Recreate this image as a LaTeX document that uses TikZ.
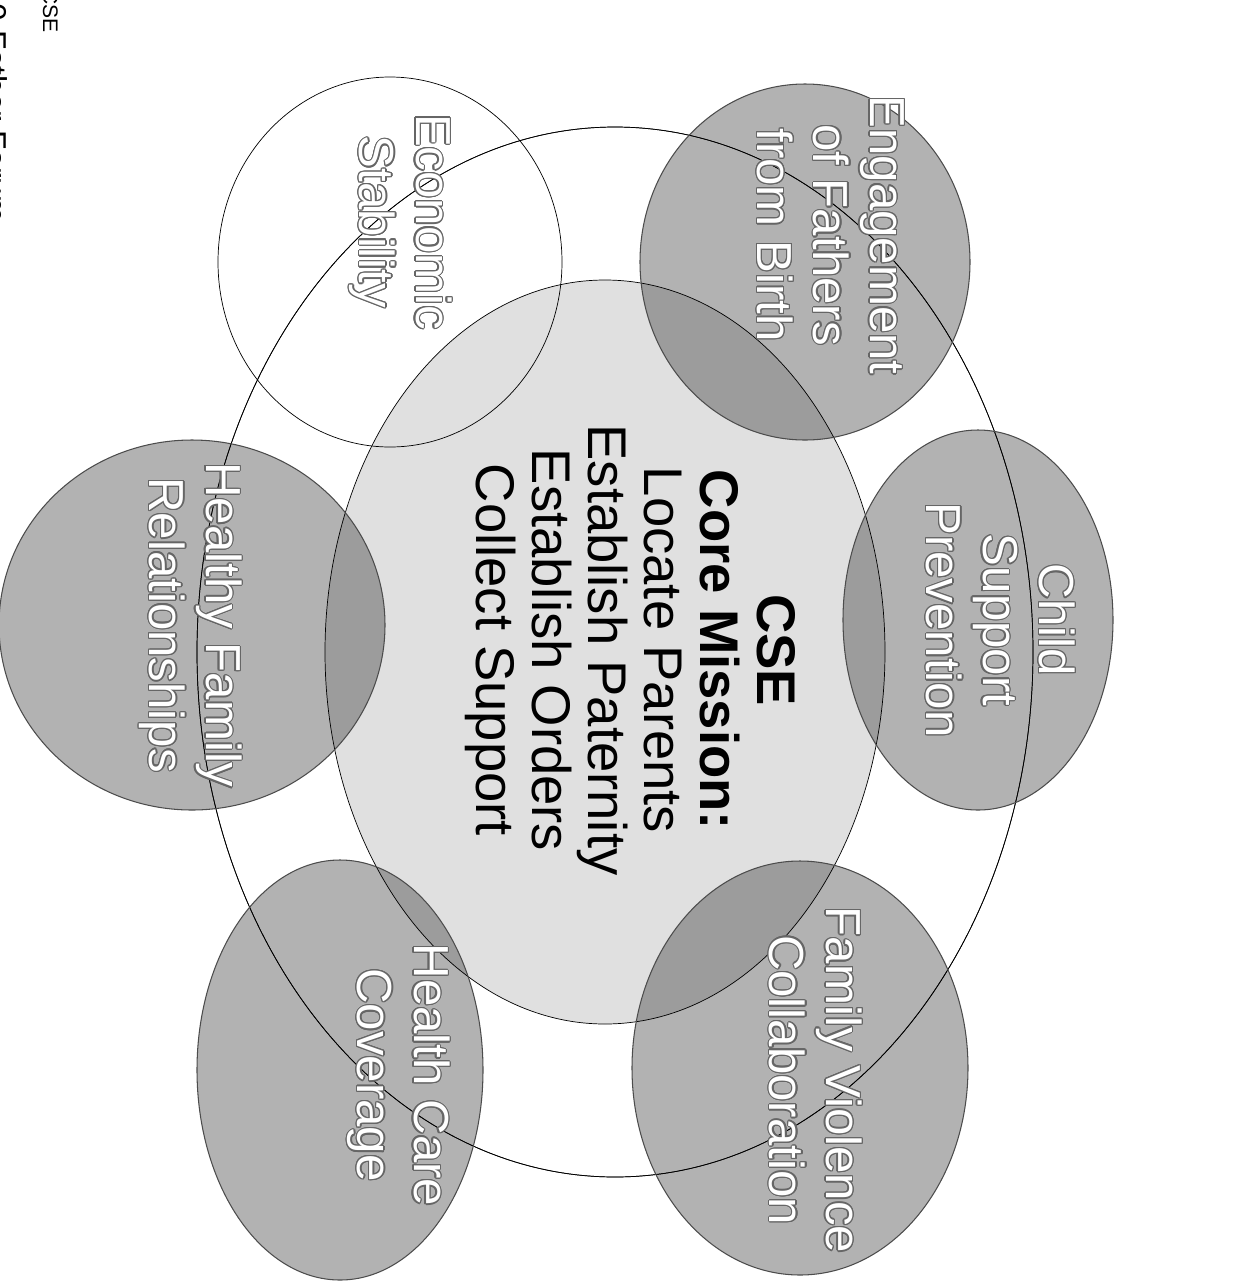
\documentclass[tikz,border=0pt]{standalone}
\usepackage{fontspec}
\setmainfont{Liberation Sans}
\usepackage{contour}
\contourlength{0.7pt}
\usetikzlibrary{positioning}

\begin{document}
\begin{tikzpicture}[x=0.02cm, y=-0.02cm,
        ringline/.style={draw=black, line width=0.4pt},
        spotfill/.style={fill=black!30, blend mode=multiply},
        spotline/.style={draw=black!70, line width=0.6pt},
        spottext/.style={rotate=-90, align=center, text=white,
            font=\fontsize{28}{32}\selectfont},
        coretext/.style={rotate=-90, align=center,
            font=\fontsize{31}{32}\selectfont}]
        \useasboundingbox (0,0) rectangle (1238,1286);

        % ring and core
        \draw[ringline, fill=white] (615,652) ellipse [x radius=418, y radius=525];
        \fill[black!12] (605,652) ellipse [x radius=280, y radius=372];

        % grey spots
        \fill[spotfill] (805,262) ellipse [x radius=165, y radius=178];
        \fill[spotfill] (978,620) ellipse [x radius=135, y radius=190];
        \fill[spotfill] (800,1068) ellipse [x radius=168, y radius=207];
        \fill[spotfill] (340,1070) ellipse [x radius=143, y radius=210];
        \fill[spotfill] (192,625) ellipse [x radius=193, y radius=185];

        % outlines on top
        \draw[ringline] (605,652) ellipse [x radius=280, y radius=372];
        \draw[ringline] (615,652) ellipse [x radius=418, y radius=525];
        \draw[ringline] (390,262) ellipse [x radius=172, y radius=185];
        \draw[spotline] (805,262) ellipse [x radius=165, y radius=178];
        \draw[spotline] (978,620) ellipse [x radius=135, y radius=190];
        \draw[spotline] (800,1068) ellipse [x radius=168, y radius=207];
        \draw[spotline] (340,1070) ellipse [x radius=143, y radius=210];
        \draw[spotline] (192,625) ellipse [x radius=193, y radius=185];

        % labels
        \node[coretext] (mission) at (630,650) {\textbf{CSE}\\ \textbf{Core Mission:}\\ Locate Parents\\
            Establish Paternity\\ Establish Orders\\ Collect Support};
        \node[spottext] (econ) at (400,222) {\contour{black!60}{Economic}\\ \contour{black!60}{Stability}};
        \node[spottext] (fathers) at (830,235) {\contour{black!60}{Engagement}\\ \contour{black!60}{of Fathers}\\
            \contour{black!60}{from Birth}};
        \node[spottext] (prevent) at (1000,620) {\contour{black!60}{Child}\\ \contour{black!60}{Support}\\
            \contour{black!60}{Prevention}};
        \node[spottext] (violence) at (815,1080) {\contour{black!60}{Family Violence}\\ \contour{black!60}{Collaboration}};
        \node[spottext] (health) at (398,1075) {\contour{black!60}{Health Care}\\ \contour{black!60}{Coverage}};
        \node[spottext] (family) at (190,625) {\contour{black!60}{Healthy Family}\\ \contour{black!60}{Relationships}};

        % margin
        \node[rotate=-90, anchor=base east, inner sep=0, font=\fontsize{12}{14}\selectfont] (agency) at (43,33) {CSE};
        \node[rotate=-90, anchor=base east, inner sep=0, font=\fontsize{18}{20}\selectfont] (forum) at (-15,222) {0 Father Forum};
\end{tikzpicture}
\end{document}
